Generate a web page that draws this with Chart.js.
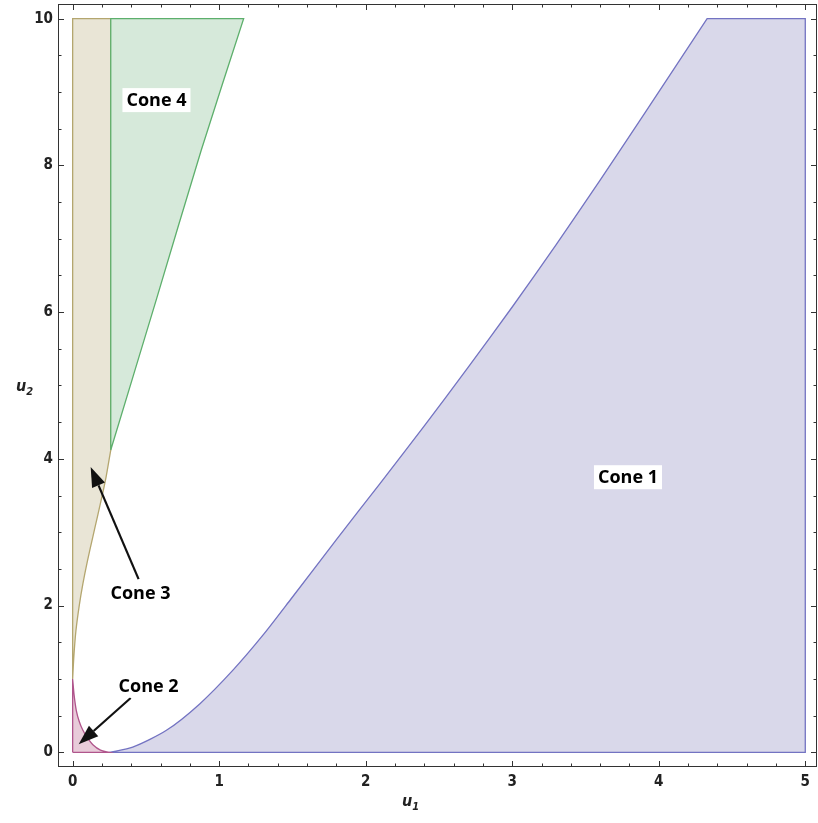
<!DOCTYPE html>
<html>
<head>
<meta charset="utf-8">
<script src="https://cdn.jsdelivr.net/npm/chart.js@4"></script>
<style>
  html, body { margin: 0; padding: 0; background: #fff; }
  #wrap { width: 818px; height: 823px; }
</style>
</head>
<body>
<div id="wrap"><canvas id="cones" width="818" height="823"></canvas></div>
<script>
// ── Region outlines (u1, u2) ──────────────────────────────────
// corner points are listed twice so the spline keeps them sharp
const cone1X = [0.25, 0.41, 0.64, 0.867, 1.094, 1.3, 1.49, 1.8, 2.096, 2.4, 2.7, 3.0, 3.3, 3.6, 3.9, 4.33, 4.33, 5, 5, 5, 5, 0.25];
const cone1Y = [0, 0.07, 0.30, 0.66, 1.12, 1.6, 2.09, 2.9, 3.66, 4.45, 5.25, 6.07, 6.92, 7.8, 8.7, 10, 10, 10, 10, 0, 0, 0];

const cone2X = [0, 0, 0, 0.01, 0.025, 0.045, 0.07, 0.1, 0.14, 0.19, 0.25, 0.25, 0];
const cone2Y = [0, 1, 1, 0.78, 0.57, 0.42, 0.30, 0.20, 0.10, 0.03, 0, 0, 0];

const cone3X = [0, 0, 0, 0.26, 0.26, 0.26, 0.26, 0.228, 0.205, 0.17, 0.137, 0.1, 0.07, 0.045, 0.022, 0.008, 0];
const cone3Y = [1, 10, 10, 10, 10, 4.12, 4.12, 3.75, 3.53, 3.22, 2.93, 2.6, 2.3, 2.0, 1.65, 1.3, 1];

const cone4X = [0.26, 0.26, 0.26, 1.167, 1.167, 0.878, 0.571, 0.26];
const cone4Y = [4.12, 10, 10, 10, 10, 8.21, 6.17, 4.12];

// ── Axes ───────────────────────────────────────────────────
const xTicks = [0, 1, 2, 3, 4, 5];
const yTicks = [0, 2, 4, 6, 8, 10];
const xMinor = [];
for (let v = 0; v <= 5.001; v += 0.2) if (Math.abs(v - Math.round(v)) > 0.01) xMinor.push(v);
const yMinor = [];
for (let v = 0; v <= 10.001; v += 0.5) if (Math.abs(v / 2 - Math.round(v / 2)) > 0.01) yMinor.push(v);

// ── Labels + arrows (data coords) ──────────────────────────
const labels = [
  { text: 'Cone 4', x: 0.572, y: 8.89 },
  { text: 'Cone 1', x: 3.79,  y: 3.75 },
  { text: 'Cone 3', x: 0.463, y: 2.18 },
  { text: 'Cone 2', x: 0.518, y: 0.91 },
];
const arrows = [
  { from: [0.45, 2.36],  to: [0.123, 3.89] },
  { from: [0.396, 0.74], to: [0.041, 0.11] },
];

const pts = (xs, ys) => xs.map((x, i) => ({ x, y: ys[i] }));

function region(data, stroke, fillCol) {
  return {
    data, showLine: true, fill: 'shape', tension: 0.25,
    borderColor: stroke, backgroundColor: fillCol, borderWidth: 1.3,
    borderJoinStyle: 'miter',
    pointRadius: 0, pointHoverRadius: 0,
  };
}

const framePlugin = {
  id: 'frame',
  afterDatasetsDraw(chart) {
    const { ctx, chartArea: a, scales: { x, y } } = chart;
    ctx.save();

    // frame
    ctx.strokeStyle = '#333';
    ctx.lineWidth = 1;
    ctx.strokeRect(a.left + 0.5, a.top + 0.5, a.right - a.left - 1, a.bottom - a.top - 1);

    // inward ticks on every side
    const tickX = (v, len) => {
      const px = Math.round(x.getPixelForValue(v)) + 0.5;
      ctx.beginPath();
      ctx.moveTo(px, a.bottom); ctx.lineTo(px, a.bottom - len);
      ctx.moveTo(px, a.top);    ctx.lineTo(px, a.top + len);
      ctx.stroke();
    };
    const tickY = (v, len) => {
      const py = Math.round(y.getPixelForValue(v)) + 0.5;
      ctx.beginPath();
      ctx.moveTo(a.left, py);  ctx.lineTo(a.left + len, py);
      ctx.moveTo(a.right, py); ctx.lineTo(a.right - len, py);
      ctx.stroke();
    };
    xTicks.forEach(v => tickX(v, 6));
    xMinor.forEach(v => tickX(v, 3.5));
    yTicks.forEach(v => tickY(v, 6));
    yMinor.forEach(v => tickY(v, 3.5));

    // axis titles
    ctx.fillStyle = '#222';
    ctx.textBaseline = 'alphabetic';
    const title = (main, sub, cx, cy) => {
      ctx.font = 'italic bold 16px "Liberation Sans Narrow", "DejaVu Sans Condensed", sans-serif';
      const w = ctx.measureText(main).width;
      ctx.textAlign = 'left';
      ctx.fillText(main, cx - w / 2 - 3, cy);
      ctx.font = 'italic bold 11px "Liberation Sans Narrow", "DejaVu Sans Condensed", sans-serif';
      ctx.fillText(sub, cx + w / 2 - 3, cy + 4);
    };
    title('u', '1', 410, 806);
    title('u', '2', 24, 391);

    // arrows
    ctx.strokeStyle = '#111';
    ctx.fillStyle = '#111';
    ctx.lineWidth = 2.2;
    arrows.forEach(ar => {
      const x0 = x.getPixelForValue(ar.from[0]), y0 = y.getPixelForValue(ar.from[1]);
      const x1 = x.getPixelForValue(ar.to[0]),   y1 = y.getPixelForValue(ar.to[1]);
      const ang = Math.atan2(y1 - y0, x1 - x0);
      const hl = 20, hw = 7;
      const bx = x1 - hl * Math.cos(ang), by = y1 - hl * Math.sin(ang);
      ctx.beginPath();
      ctx.moveTo(x0, y0); ctx.lineTo(bx, by);
      ctx.stroke();
      ctx.beginPath();
      ctx.moveTo(x1, y1);
      ctx.lineTo(bx + hw * Math.sin(ang), by - hw * Math.cos(ang));
      ctx.lineTo(bx - hw * Math.sin(ang), by + hw * Math.cos(ang));
      ctx.closePath();
      ctx.fill();
    });

    // boxed labels
    ctx.font = 'bold 18px "Open Sans", "Noto Sans", sans-serif';
    ctx.textAlign = 'center';
    ctx.textBaseline = 'middle';
    labels.forEach(l => {
      const px = x.getPixelForValue(l.x), py = y.getPixelForValue(l.y);
      const w = ctx.measureText(l.text).width;
      ctx.fillStyle = '#fff';
      ctx.fillRect(px - w / 2 - 4, py - 12, w + 8, 24);
      ctx.fillStyle = '#000';
      ctx.fillText(l.text, px, py + 1);
    });

    ctx.restore();
  }
};

const tickFont = { family: '"Liberation Sans Narrow", "DejaVu Sans Condensed", sans-serif', size: 15, weight: 'bold' };

new Chart(document.getElementById('cones'), {
  type: 'scatter',
  data: {
    datasets: [
      region(pts(cone4X, cone4Y), '#5DAF6C', 'rgba(214,233,218,1)'),
      region(pts(cone3X, cone3Y), '#B4A66F', 'rgba(233,229,214,1)'),
      region(pts(cone2X, cone2Y), '#B0558C', 'rgba(232,203,217,1)'),
      region(pts(cone1X, cone1Y), '#7373C2', 'rgba(217,216,234,1)'),
    ],
  },
  options: {
    responsive: false,
    animation: false,
    layout: { padding: { top: 4, right: 1, left: 0, bottom: 0 } },
    plugins: { legend: { display: false }, tooltip: { enabled: false } },
    scales: {
      x: {
        type: 'linear', min: -0.1, max: 5.08,
        grid: { display: false, drawTicks: false },
        border: { display: false },
        ticks: { color: '#222', font: tickFont, padding: 6, maxRotation: 0 },
        afterBuildTicks: s => { s.ticks = xTicks.map(v => ({ value: v })); },
        afterFit: s => { s.height = 56; s.paddingLeft = 0; s.paddingRight = 0; },
      },
      y: {
        type: 'linear', min: -0.2, max: 10.2,
        grid: { display: false, drawTicks: false },
        border: { display: false },
        ticks: { color: '#222', font: tickFont, padding: 5 },
        afterBuildTicks: s => { s.ticks = yTicks.map(v => ({ value: v })); },
        afterFit: s => { s.width = 58; s.paddingTop = 0; s.paddingBottom = 0; },
      },
    },
  },
  plugins: [framePlugin],
});
</script>
</body>
</html>
